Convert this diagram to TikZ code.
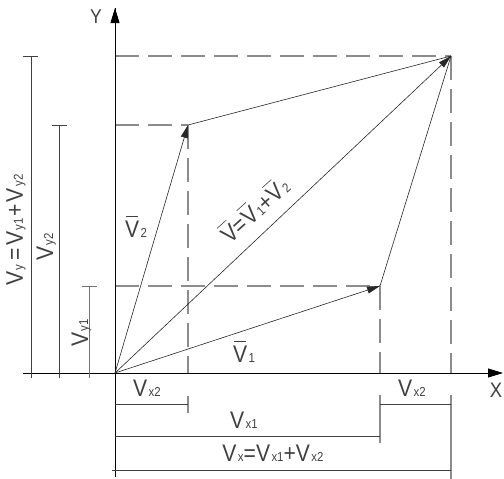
\documentclass[tikz,border=0pt]{standalone}
\usepackage{fontspec}
\setmainfont{Liberation Sans}[FakeStretch=0.88]
\usetikzlibrary{arrows.meta}
\newcommand\bigt{\fontsize{24}{24}\selectfont}
\newcommand\subt[1]{\kern1.4pt{\fontsize{13}{13}\selectfont #1}}
\newcommand\VV[1]{V\subt{#1}}
\newcommand\Vbar{\leavevmode\rlap{\kern0.03em\raisebox{0.86em}{\rule{0.52em}{0.6pt}}}V}
\begin{document}
\begin{tikzpicture}[x=1pt,y=-1pt,
  axis/.style={line width=0.8pt,black},
  vec/.style={line width=0.6pt,black!85},
  vtip/.style={-{Triangle[length=13pt,width=7pt]}},
  atip/.style={-{Triangle[length=15pt,width=9pt]}},
  dsh/.style={line width=1.3pt,black!45,dash pattern=on 24pt off 9pt},
  ext/.style={line width=1.1pt,black!45},
  dim/.style={line width=0.8pt,black!75},
  lbl/.style={inner sep=0pt,text=black!75,font=\bigt}]
\useasboundingbox (0,0) rectangle (504,479);
% key points
\coordinate (O) at (115,373);
\coordinate (A) at (380,286);
\coordinate (B) at (188,125);
\coordinate (C) at (451,56);
\coordinate (Ybot) at (115,477);
\coordinate (Ytop) at (115,8);
\coordinate (Xl) at (23,373);
\coordinate (Xr) at (503,373);
% projections
\coordinate (Cy) at (115,56);
\coordinate (By) at (115,125);
\coordinate (Ay) at (115,286);
\coordinate (Bx) at (188,373);
\coordinate (Ax) at (380,373);
\coordinate (Cx) at (451,373);
% dashed projections
\draw[dsh] (Cy) -- (C);
\draw[dsh] (By) -- (B);
\draw[dsh] (Ay) -- (A);
\draw[dsh] (B) -- (Bx);
\draw[dsh] (A) -- (Ax);
\draw[dsh] (C) -- (Cx);
% axes
\draw[axis] (Ybot) -- (Ytop);
\draw[axis,atip] (Xl) -- (Xr);
\draw[axis,atip] (115,30) -- (Ytop);
\node[lbl,font=\fontsize{20}{20}\selectfont] (ylab) at (96,17) {Y};
\node[lbl,font=\fontsize{21}{21}\selectfont] (xlab) at (496,390) {X};
% vectors
\draw[vec,vtip] (O) -- (A);
\draw[vec,vtip] (O) -- (B);
\draw[vec,vtip] (O) -- (C);
\draw[vec] (B) -- (C);
\draw[vec] (A) -- (C);
\node[lbl,anchor=base] (v1) at (244,362) {\Vbar\subt{1}};
\node[lbl,anchor=base] (v2) at (136,237) {\Vbar\subt{2}};
\node[lbl,anchor=center,rotate=42] (vs) at (254,209) {\Vbar=\Vbar\subt{1}+\Vbar\subt{2}};
% extension lines below X axis
\coordinate (e1a) at (188,396); \coordinate (e1b) at (188,413);
\coordinate (e2a) at (380,395); \coordinate (e2b) at (380,443);
\coordinate (e3a) at (451,395); \coordinate (e3b) at (451,479);
\draw[ext] (e1a) -- (e1b);
\draw[ext] (e2a) -- (e2b);
\draw[ext] (e3a) -- (e3b);
% horizontal dimensions
\coordinate (d1a) at (115,404); \coordinate (d1b) at (188,404);
\coordinate (d2a) at (380,404); \coordinate (d2b) at (451,404);
\coordinate (d3a) at (115,436); \coordinate (d3b) at (380,436);
\coordinate (d4a) at (112,470); \coordinate (d4b) at (451,470);
\draw[dim] (d1a) -- (d1b);
\draw[dim] (d2a) -- (d2b);
\draw[dim] (d3a) -- (d3b);
\draw[dim] (d4a) -- (d4b);
\node[lbl,anchor=base] (lx2a) at (147,396) {\VV{x2}};
\node[lbl,anchor=base] (lx2b) at (412,396) {\VV{x2}};
\node[lbl,anchor=base] (lx1) at (244,428) {\VV{x1}};
\node[lbl,anchor=base] (lx) at (273,461) {\VV{x}=\VV{x1}+\VV{x2}};
% vertical dimensions
\coordinate (h1a) at (31,56);  \coordinate (h1b) at (31,378);
\coordinate (h2a) at (59,125); \coordinate (h2b) at (59,378);
\coordinate (h3a) at (89,286); \coordinate (h3b) at (89,378);
\draw[dim] (h1a) -- (h1b);
\draw[dim] (h2a) -- (h2b);
\draw[dim,black!55] (h3a) -- (h3b);
\coordinate (t1a) at (23,56);  \coordinate (t1b) at (38,56);
\coordinate (t2a) at (52,125); \coordinate (t2b) at (67,125);
\coordinate (t3a) at (82,286); \coordinate (t3b) at (97,286);
\draw[dim] (t1a) -- (t1b);
\draw[dim] (t2a) -- (t2b);
\draw[dim,black!55] (t3a) -- (t3b);
\node[lbl,anchor=base,rotate=90] (ly) at (23,230) {\VV{y}\kern4pt=\kern2pt\VV{y1}\kern2pt+\kern2pt\VV{y2}};
\node[lbl,anchor=base,rotate=90] (ly2) at (53,247) {\VV{y2}};
\node[lbl,anchor=base,rotate=90] (ly1) at (88,333) {\VV{y1}};
\end{tikzpicture}
\end{document}
